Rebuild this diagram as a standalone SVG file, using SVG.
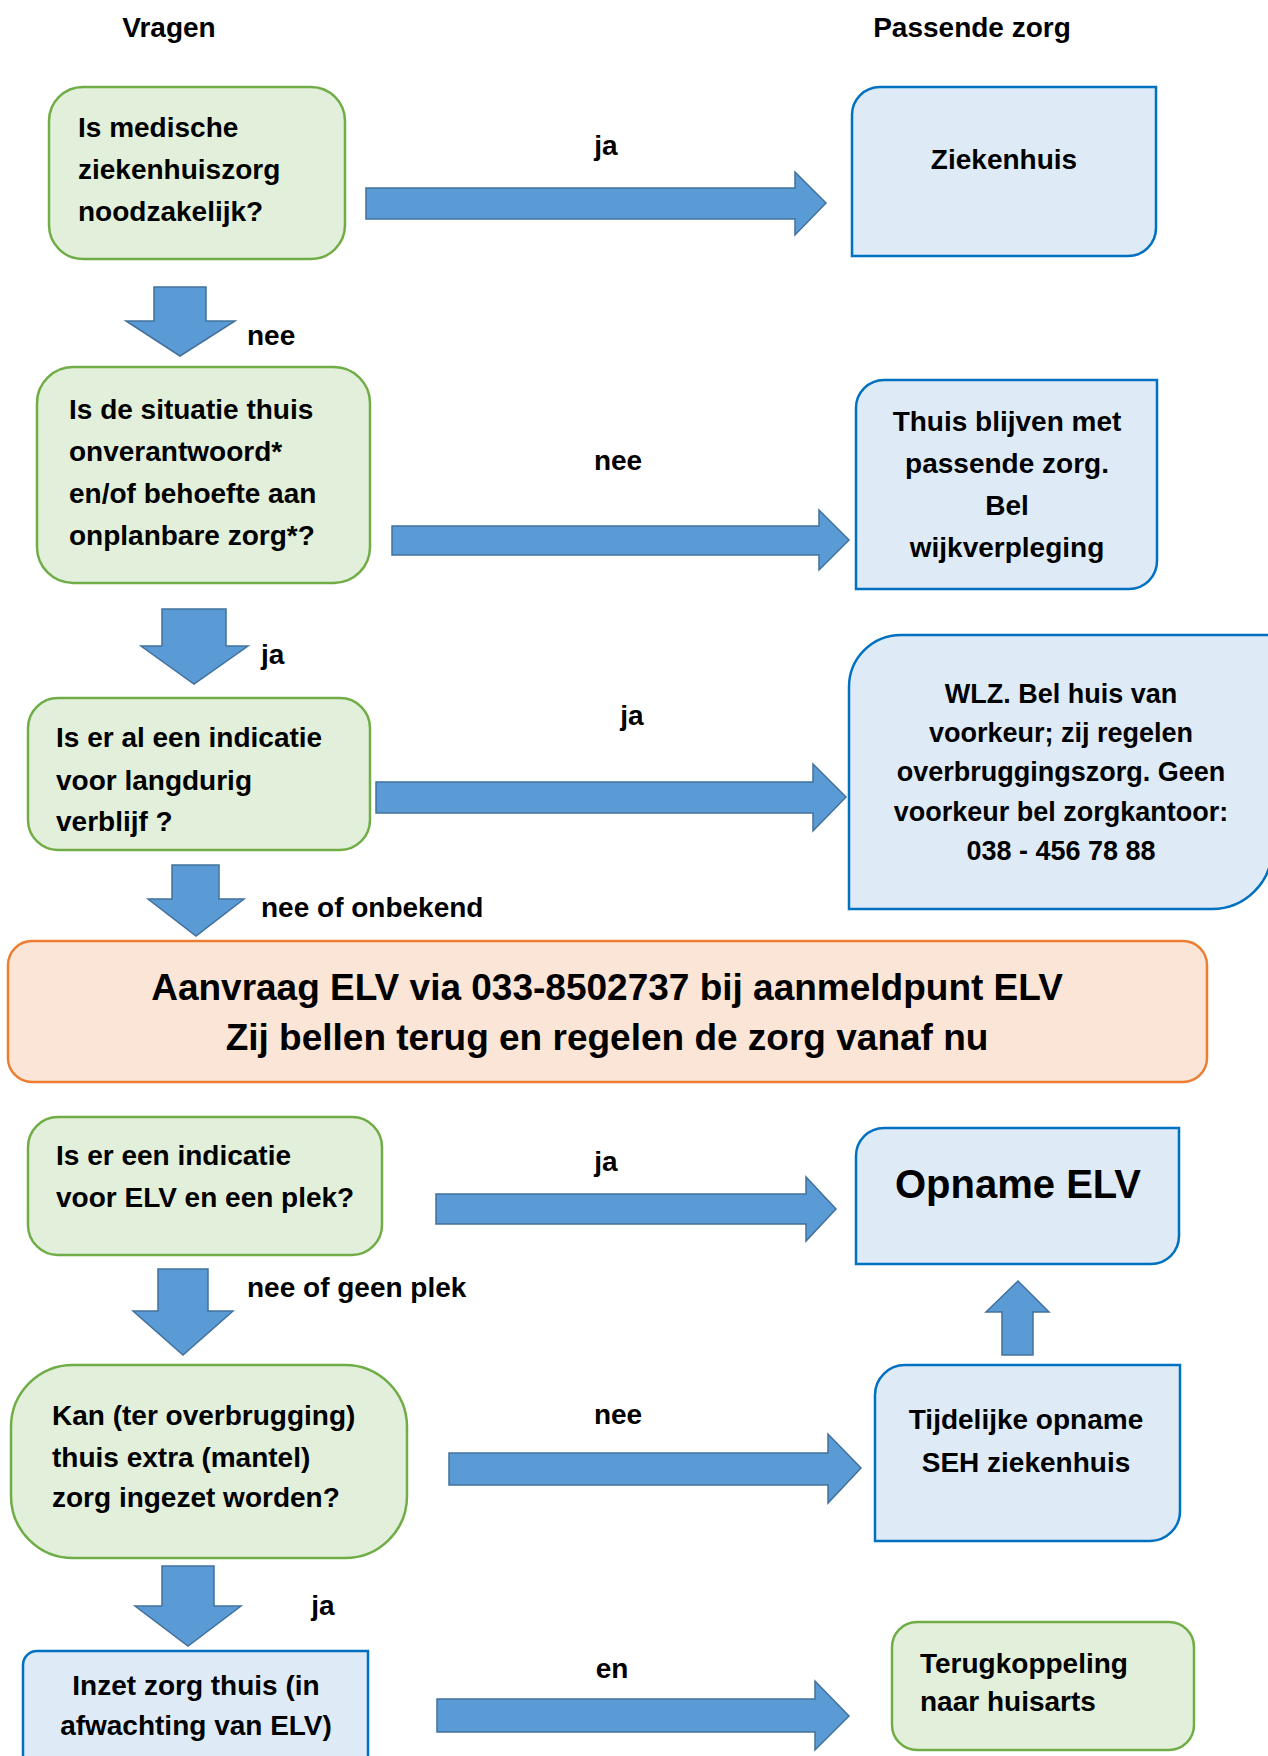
<svg xmlns="http://www.w3.org/2000/svg" width="1268" height="1756" viewBox="0 0 1268 1756">
<style>
  text { font-family: "Liberation Sans", Arial, sans-serif; font-weight: bold; fill: #000; }
  .t { font-size: 28px; }
  .s { font-size: 27px; }
  .c { text-anchor: middle; }
  .green { fill: #E2EFDA; stroke: #70AD47; stroke-width: 2.5; }
  .blue { fill: #DEEBF7; stroke: #0070C0; stroke-width: 2.5; }
  .orange { fill: #FBE5D6; stroke: #ED7D31; stroke-width: 2.5; }
  .arrow { fill: #5B9BD5; stroke: #41719C; stroke-width: 1.5; }
</style>
<rect width="1268" height="1756" fill="#FFFFFF"/>

<g id="headers">
  <text class="t c" x="169" y="37">Vragen</text>
  <text class="t c" x="972" y="37">Passende zorg</text>
</g>

<g id="connectors">
  <polygon class="arrow" points="366,188 795,188 795,172 826,203 795,235 795,219 366,219"/>
  <polygon class="arrow" points="392,526 819,526 819,510 849,540 819,570 819,555 392,555"/>
  <polygon class="arrow" points="376,782 813,782 813,764 846,797 813,831 813,813 376,813"/>
  <polygon class="arrow" points="436,1194 806,1194 806,1177 836,1209 806,1241 806,1224 436,1224"/>
  <polygon class="arrow" points="449,1453 828,1453 828,1434 861,1468 828,1503 828,1485 449,1485"/>
  <polygon class="arrow" points="437,1699 815,1699 815,1681 849,1716 815,1750 815,1732 437,1732"/>
  <polygon class="arrow" points="154,287 206,287 206,321 235,321 180,356 126,321 154,321"/>
  <polygon class="arrow" points="162,609 226,609 226,646 248,646 194,684 141,646 162,646"/>
  <polygon class="arrow" points="172,865 219,865 219,899 244,899 196,936 148,899 172,899"/>
  <polygon class="arrow" points="158,1269 208,1269 208,1311 233,1311 183,1355 133,1311 158,1311"/>
  <polygon class="arrow" points="162,1566 214,1566 214,1606 241,1606 188,1646 135,1606 162,1606"/>
  <polygon class="arrow" points="1002,1355 1033,1355 1033,1312 1049,1312 1018,1281 986,1312 1002,1312"/>
  <text class="t c" x="606" y="155">ja</text>
  <text class="t" x="247" y="345">nee</text>
  <text class="t c" x="618" y="470">nee</text>
  <text class="t" x="261" y="664">ja</text>
  <text class="t c" x="632" y="725">ja</text>
  <text class="t" x="261" y="917">nee of onbekend</text>
  <text class="t c" x="606" y="1171">ja</text>
  <text class="t" x="247" y="1297">nee of geen plek</text>
  <text class="t c" x="618" y="1424">nee</text>
  <text class="t c" x="323" y="1615">ja</text>
  <text class="t c" x="612" y="1678">en</text>
</g>

<g id="q1">
  <rect class="green" x="49" y="87" width="296" height="172" rx="34"/>
  <text class="t" x="78" y="137">Is medische</text>
  <text class="t" x="78" y="179">ziekenhuiszorg</text>
  <text class="t" x="78" y="221">noodzakelijk?</text>
</g>

<g id="ziekenhuis">
  <path class="blue" d="M880,87 H1156 V228 A28,28 0 0 1 1128,256 H852 V115 A28,28 0 0 1 880,87 Z"/>
  <text class="t c" x="1004" y="169">Ziekenhuis</text>
</g>

<g id="q2">
  <rect class="green" x="37" y="367" width="333" height="216" rx="36"/>
  <text class="t" x="69" y="419">Is de situatie thuis</text>
  <text class="t" x="69" y="461">onverantwoord*</text>
  <text class="t" x="69" y="503">en/of behoefte aan</text>
  <text class="t" x="69" y="545">onplanbare zorg*?</text>
</g>

<g id="thuis">
  <path class="blue" d="M884,380 H1157 V561 A28,28 0 0 1 1129,589 H856 V408 A28,28 0 0 1 884,380 Z"/>
  <text class="t c" x="1007" y="431">Thuis blijven met</text>
  <text class="t c" x="1007" y="473">passende zorg.</text>
  <text class="t c" x="1007" y="515">Bel</text>
  <text class="t c" x="1007" y="557">wijkverpleging</text>
</g>

<g id="q3">
  <rect class="green" x="28" y="698" width="342" height="152" rx="30"/>
  <text class="t" x="56" y="747">Is er al een indicatie</text>
  <text class="t" x="56" y="790">voor langdurig</text>
  <text class="t" x="56" y="831">verblijf ?</text>
</g>

<g id="wlz">
  <path class="blue" d="M901,635 H1272 V849 A60,60 0 0 1 1212,909 H849 V687 A52,52 0 0 1 901,635 Z"/>
  <text class="s c" x="1061" y="703">WLZ. Bel huis van</text>
  <text class="s c" x="1061" y="742">voorkeur; zij regelen</text>
  <text class="s c" x="1061" y="781">overbruggingszorg. Geen</text>
  <text class="s c" x="1061" y="821">voorkeur bel zorgkantoor:</text>
  <text class="s c" x="1061" y="860">038 - 456 78 88</text>
</g>

<g id="aanvraag">
  <rect class="orange" x="8" y="941" width="1199" height="141" rx="24"/>
  <text class="c" style="font-size:37px" x="607" y="1000">Aanvraag ELV via 033-8502737 bij aanmeldpunt ELV</text>
  <text class="c" style="font-size:37px" x="607" y="1050">Zij bellen terug en regelen de zorg vanaf nu</text>
</g>

<g id="q4">
  <rect class="green" x="28" y="1117" width="354" height="138" rx="30"/>
  <text class="t" x="56" y="1165">Is er een indicatie</text>
  <text class="t" x="56" y="1207">voor ELV en een plek?</text>
</g>

<g id="opname">
  <path class="blue" d="M884,1128 H1179 V1236 A28,28 0 0 1 1151,1264 H856 V1156 A28,28 0 0 1 884,1128 Z"/>
  <text class="c" style="font-size:40px" x="1018" y="1198">Opname ELV</text>
</g>

<g id="q5">
  <rect class="green" x="11" y="1365" width="396" height="193" rx="62"/>
  <text class="t" x="52" y="1425">Kan (ter overbrugging)</text>
  <text class="t" x="52" y="1467">thuis extra (mantel)</text>
  <text class="t" x="52" y="1507">zorg ingezet worden?</text>
</g>

<g id="tijdelijk">
  <path class="blue" d="M905,1365 H1180 V1511 A30,30 0 0 1 1150,1541 H875 V1395 A30,30 0 0 1 905,1365 Z"/>
  <text class="t c" x="1026" y="1429">Tijdelijke opname</text>
  <text class="t c" x="1026" y="1472">SEH ziekenhuis</text>
</g>

<g id="inzet">
  <path class="blue" d="M37,1651 H368 V1775 H23 V1665 A14,14 0 0 1 37,1651 Z"/>
  <text class="t c" x="196" y="1695">Inzet zorg thuis (in</text>
  <text class="t c" x="196" y="1735">afwachting van ELV)</text>
</g>

<g id="terugkoppeling">
  <rect class="green" x="892" y="1622" width="302" height="128" rx="25"/>
  <text class="t" x="920" y="1673">Terugkoppeling</text>
  <text class="t" x="920" y="1711">naar huisarts</text>
</g>
</svg>
